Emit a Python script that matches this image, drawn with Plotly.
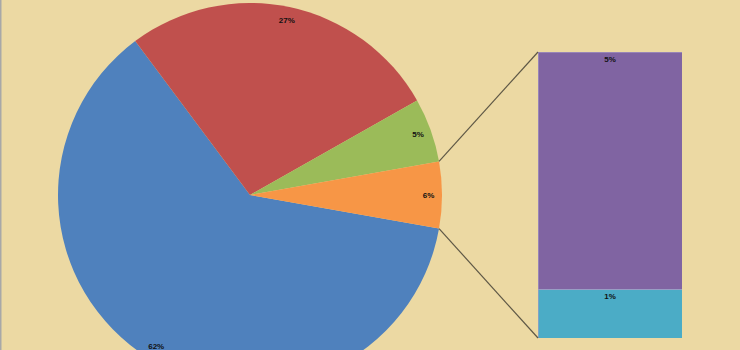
import math
import plotly.graph_objects as go

# ---- data ----
pie_labels = ["Blue", "Red", "Green", "Other"]
pie_values = [62.0, 27.0, 5.4, 5.6]
bar_labels = ["Teal", "Purple"]
bar_values = [0.95, 4.65]

pie_colors = ["#4F81BD", "#C0504D", "#9BBB59", "#F79646"]
bar_colors = ["#4BACC6", "#8064A2"]

W, H = 740, 390
bg = "#ECD9A3"

total = sum(pie_values)
other_share = pie_values[-1] / total
rotation = 90 + other_share * 360 / 2

pie_dom_x = [58 / W, 442 / W]
pie_dom_y = [1 - 387 / H, 1 - 3 / H]

fig = go.Figure()
fig.add_trace(go.Pie(
    labels=pie_labels, values=pie_values, sort=False, direction="clockwise",
    rotation=rotation, marker=dict(colors=pie_colors, line=dict(width=0)),
    textinfo="none", domain=dict(x=pie_dom_x, y=pie_dom_y), showlegend=False,
))
# transparent ring overlay to place labels near the rim
fig.add_trace(go.Pie(
    labels=pie_labels, values=pie_values, sort=False, direction="clockwise",
    rotation=rotation, hole=0.86,
    marker=dict(colors=["rgba(0,0,0,0)"] * 4, line=dict(width=0)),
    texttemplate="<b>%{percent:.0%}</b>", textposition="inside",
    insidetextorientation="horizontal",
    textfont=dict(size=8, color="#111111", family="Liberation Sans"),
    domain=dict(x=pie_dom_x, y=pie_dom_y), showlegend=False, hoverinfo="skip",
))

bar_dom_x = [538 / W, 682 / W]
bar_dom_y = [1 - 338 / H, 1 - 52 / H]
for lab, v, c in zip(bar_labels, bar_values, bar_colors):
    fig.add_trace(go.Bar(
        x=["Other"], y=[v], name=lab, marker=dict(color=c, line=dict(width=0.6, color="#A99BC4")),
        text=[f"<b>{v:.0f}%</b>"], textposition="inside", insidetextanchor="end",
        textfont=dict(size=8, color="#111111", family="Liberation Sans"),
        width=1, showlegend=False, xaxis="x", yaxis="y",
    ))

fig.update_layout(
    barmode="stack", width=W, height=H, margin=dict(l=0, r=0, t=0, b=0),
    paper_bgcolor=bg, plot_bgcolor="rgba(0,0,0,0)",
    xaxis=dict(domain=bar_dom_x, range=[-0.5, 0.5], visible=False),
    yaxis=dict(domain=bar_dom_y, range=[0, sum(bar_values)], visible=False),
)

# connector lines from the "other" slice edges to the bar corners
cx = (pie_dom_x[0] + pie_dom_x[1]) / 2 * W
cy = (1 - (pie_dom_y[0] + pie_dom_y[1]) / 2) * H
R = min((pie_dom_x[1] - pie_dom_x[0]) * W, (pie_dom_y[1] - pie_dom_y[0]) * H) / 2
a_top = math.radians(rotation - other_share * 360)
a_bot = math.radians(rotation)
for a, by in [(a_top, bar_dom_y[1]), (a_bot, bar_dom_y[0])]:
    px = cx + R * math.sin(a)
    py = cy - R * math.cos(a)
    fig.add_shape(type="line", xref="paper", yref="paper",
                  x0=px / W, y0=1 - py / H, x1=bar_dom_x[0], y1=by,
                  line=dict(color="#5E5846", width=1.2))
fig.add_shape(type="line", xref="paper", yref="paper", x0=0.001, x1=0.001, y0=0, y1=1,
              line=dict(color="#A8A8A8", width=1.5))

fig.write_html("out.html")
